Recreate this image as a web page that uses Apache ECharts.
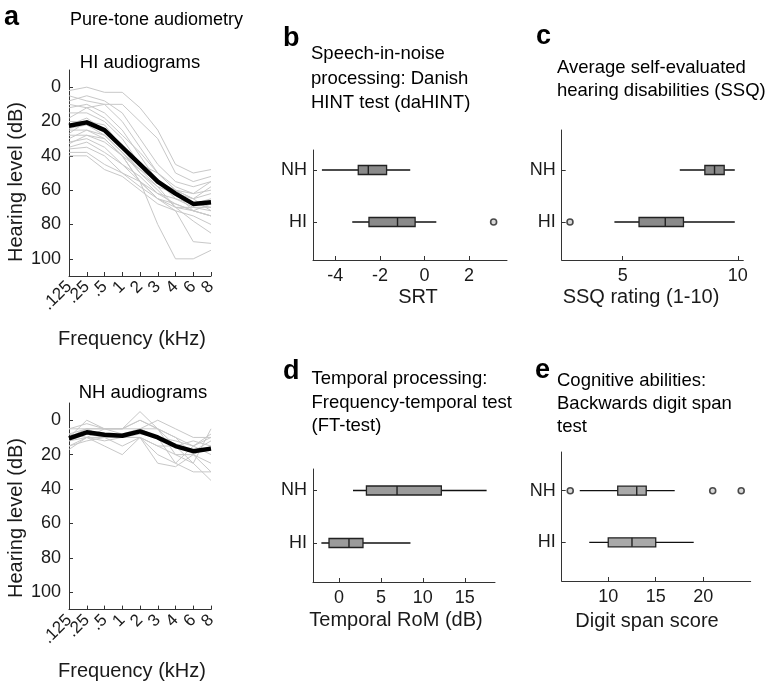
<!DOCTYPE html>
<html><head><meta charset="utf-8">
<script src="https://cdn.jsdelivr.net/npm/echarts@6/dist/echarts.min.js"></script>
<style>html,body{margin:0;padding:0;background:#fff}#c{width:766px;height:685px}</style>
</head><body><div id="c"></div>
<script>
const FONT = '"Liberation Sans", Arial, Helvetica, sans-serif';

// ---- Panel a: audiograms ----
const freqLabels = ['.125', '.25', '.5', '1', '2', '3', '4', '6', '8'];
const hearingTicks = [0, 20, 40, 60, 80, 100];
const hiIndividual = [
  [2, 0, 3, 3, 12, 25, 45, 50, 48],
  [5, 8, 10, 10, 20, 30, 50, 55, 52],
  [8, 5, 8, 15, 30, 45, 55, 58, 55],
  [10, 12, 10, 20, 35, 50, 58, 62, 60],
  [12, 10, 15, 25, 40, 55, 62, 65, 62],
  [15, 15, 20, 30, 45, 50, 60, 68, 70],
  [18, 12, 18, 28, 38, 50, 60, 65, 58],
  [20, 20, 22, 35, 45, 55, 60, 65, 72],
  [22, 18, 25, 35, 50, 60, 70, 70, 70],
  [24, 22, 28, 38, 48, 58, 62, 72, 75],
  [25, 25, 30, 40, 55, 80, 100, 100, 95],
  [27, 20, 25, 35, 45, 55, 65, 68, 65],
  [28, 28, 30, 40, 55, 65, 68, 72, 75],
  [30, 25, 28, 38, 50, 58, 70, 72, 68],
  [32, 30, 35, 45, 52, 62, 65, 70, 72],
  [33, 28, 32, 40, 48, 55, 60, 62, 55],
  [35, 32, 38, 45, 55, 65, 72, 90, 91],
  [36, 35, 40, 50, 55, 62, 68, 72, 75],
  [38, 38, 45, 50, 58, 65, 70, 78, 85],
  [40, 40, 48, 52, 60, 68, 72, 75, 80]
];
const hiMean = [22.5, 20.5, 25, 35, 45, 55, 62, 68, 67];
const nhIndividual = [
  [5, 2, 5, 5, -5, 5, 10, 15, 8],
  [8, 5, 5, 5, 5, 0, 5, 10, 10],
  [10, 5, 10, 10, 5, 10, 15, 12, 15],
  [12, 10, 10, 15, 10, 15, 20, 20, 25],
  [15, 10, 15, 20, 10, 25, 27, 20, 30],
  [10, 0, 5, 5, 0, 5, 20, 25, 35],
  [5, 5, 10, 10, 10, 15, 15, 18, 12],
  [15, 12, 10, 10, 8, 10, 25, 30, 30],
  [12, 8, 10, 10, 5, 10, 12, 15, 20],
  [8, 10, 5, 8, 5, 5, 10, 20, 15],
  [17, 10, 12, 10, 10, 20, 25, 15, 10],
  [10, 5, 5, 5, 0, 5, 15, 25, 5]
];
const nhMean = [10.5, 7, 8.5, 9, 6.5, 10, 15, 18, 16.5];

// ---- Panels b-e: box statistics [min, q1, median, q3, max] ----
const groups = ['NH', 'HI'];
const srtNH = [-4.6, -2.97, -2.52, -1.7, -0.64];
const srtHI = [-3.24, -2.49, -1.21, -0.42, 0.53];
const srtOutNH = [];
const srtOutHI = [3.1];
const srtTicks = [-4, -2, 0, 2];

const ssqNH = [7.48, 8.57, 8.99, 9.41, 9.87];
const ssqHI = [4.64, 5.71, 6.85, 7.64, 9.87];
const ssqOutNH = [];
const ssqOutHI = [2.71];
const ssqTicks = [5, 10];

const romNH = [1.67, 3.27, 6.92, 12.2, 17.6];
const romHI = [-2.1, -1.19, 1.19, 2.86, 8.52];
const romOutNH = [];
const romOutHI = [];
const romTicks = [0, 5, 10, 15];

const digitNH = [7, 11, 13, 14, 17];
const digitHI = [8, 10, 12.5, 15, 19];
const digitOutNH = [6, 21, 24];
const digitOutHI = [];
const digitTicks = [10, 15, 20];

// ---- layout ----
const AX = '#333';
const TXT = '#1a1a1a';
const grids = [
  {left: 69, top: 70, width: 142, height: 206},
  {left: 69, top: 403, width: 142, height: 206.6},
  {left: 313, top: 150, width: 194, height: 110},
  {left: 561.7, top: 130, width: 181.6, height: 130},
  {left: 313, top: 469, width: 182, height: 113},
  {left: 561.7, top: 452, width: 189, height: 129}
];
const boxPanels = [
  {nh: srtNH, hi: srtHI, outNH: srtOutNH, outHI: srtOutHI, ticks: srtTicks, xmin: -5, xmax: 3.7, ymin: 0.615, ymax: 2.731, fill: '#8a8a8a'},
  {nh: ssqNH, hi: ssqHI, outNH: ssqOutNH, outHI: ssqOutHI, ticks: ssqTicks, xmin: 2.35, xmax: 10.24, ymin: 0.231, ymax: 2.731, fill: '#8a8a8a'},
  {nh: romNH, hi: romHI, outNH: romOutNH, outHI: romOutHI, ticks: romTicks, xmin: -3.1, xmax: 18.6, ymin: 0.59, ymax: 2.743, fill: '#9b9b9b'},
  {nh: digitNH, hi: digitHI, outNH: digitOutNH, outHI: digitOutHI, ticks: digitTicks, xmin: 5.1, xmax: 25, ymin: 0.25, ymax: 2.75, fill: '#a9a9a9'}
];

const xAxes = [], yAxes = [], series = [];
[0, 1].forEach(gi => {
  xAxes.push({gridIndex: gi, type: 'category', data: freqLabels, boundaryGap: false,
    axisLine: {onZero: false, lineStyle: {color: AX, width: 1}},
    axisTick: {inside: true, length: 4, lineStyle: {color: AX}},
    axisLabel: {rotate: 45, margin: 8, fontSize: 17, color: TXT, fontFamily: FONT, interval: 0},
    splitLine: {show: false}});
  yAxes.push({gridIndex: gi, type: 'value', inverse: true, min: -10, max: 110,
    axisLine: {show: true, onZero: false, lineStyle: {color: AX, width: 1}},
    axisTick: {show: true, inside: true, length: 4, customValues: hearingTicks, lineStyle: {color: AX}},
    axisLabel: {customValues: hearingTicks, fontSize: 18, margin: 8, color: TXT, fontFamily: FONT},
    splitLine: {show: false}});
});
function addAudio(gi, indiv, mean) {
  indiv.forEach(d => series.push({type: 'line', xAxisIndex: gi, yAxisIndex: gi, data: d, symbol: 'none', silent: true, z: 1,
    lineStyle: {color: '#c8c8c8', width: 1}}));
  series.push({type: 'line', xAxisIndex: gi, yAxisIndex: gi, data: mean, symbol: 'none', silent: true, z: 3,
    lineStyle: {color: '#000', width: 4.5, join: 'round'}});
}
addAudio(0, hiIndividual, hiMean);
addAudio(1, nhIndividual, nhMean);

function boxRender(fill) {
  return function (params, api) {
    const y = api.value(5);
    const a = api.coord([api.value(0), y]);
    const q1 = api.coord([api.value(1), y]);
    const md = api.coord([api.value(2), y]);
    const q3 = api.coord([api.value(3), y]);
    const b = api.coord([api.value(4), y]);
    const h = 4.5;
    return {type: 'group', children: [
      {type: 'line', shape: {x1: a[0], y1: a[1], x2: b[0], y2: b[1]}, style: {stroke: '#111', lineWidth: 1.3}},
      {type: 'rect', shape: {x: q1[0], y: q1[1] - h, width: q3[0] - q1[0], height: 2 * h}, style: {fill: fill, stroke: '#222', lineWidth: 1.3}},
      {type: 'line', shape: {x1: md[0], y1: md[1] - h, x2: md[0], y2: md[1] + h}, style: {stroke: '#222', lineWidth: 1.4}}
    ]};
  };
}
boxPanels.forEach((p, i) => {
  const gi = i + 2;
  xAxes.push({gridIndex: gi, type: 'value', min: p.xmin, max: p.xmax,
    axisLine: {show: true, onZero: false, lineStyle: {color: AX, width: 1}},
    axisTick: {show: true, inside: true, length: 4, customValues: p.ticks, lineStyle: {color: AX}},
    axisLabel: {customValues: p.ticks, fontSize: 18, margin: 7, color: TXT, fontFamily: FONT},
    splitLine: {show: false}});
  yAxes.push({gridIndex: gi, type: 'value', inverse: true, min: p.ymin, max: p.ymax,
    axisLine: {show: true, onZero: false, lineStyle: {color: AX, width: 1}},
    axisTick: {show: true, inside: true, length: 4, customValues: [1, 2], lineStyle: {color: AX}},
    axisLabel: {customValues: [1, 2], formatter: v => groups[Math.round(v) - 1], fontSize: 18, margin: 6, color: TXT, fontFamily: FONT},
    splitLine: {show: false}});
  series.push({type: 'custom', xAxisIndex: gi, yAxisIndex: gi, renderItem: boxRender(p.fill), silent: true, z: 2,
    encode: {x: [0, 1, 2, 3, 4], y: 5},
    data: [p.nh.concat([1]), p.hi.concat([2])]});
  const outs = p.outNH.map(v => [v, 1]).concat(p.outHI.map(v => [v, 2]));
  if (outs.length) series.push({type: 'scatter', xAxisIndex: gi, yAxisIndex: gi, data: outs, symbol: 'circle', symbolSize: 6, silent: true, z: 4,
    itemStyle: {color: '#cfcfcf', borderColor: '#222', borderWidth: 1.6}});
});

function txt(x, y, text, size, opts) {
  opts = opts || {};
  return {type: 'text', x: x, y: y, rotation: opts.rot || 0, silent: true,
    style: {text: text, fill: opts.color || '#000', font: (opts.bold ? 'bold ' : '') + size + 'px ' + FONT,
      align: opts.align || 'left', verticalAlign: 'middle'}};
}
const graphics = [
  txt(4, 18, 'a', 27, {bold: true}),
  txt(70, 20, 'Pure-tone audiometry', 18),
  txt(140, 62.5, 'HI audiograms', 18.5, {align: 'center'}),
  txt(143, 392.5, 'NH audiograms', 18.5, {align: 'center'}),
  txt(132, 339, 'Frequency (kHz)', 20, {align: 'center', color: TXT}),
  txt(132, 671.5, 'Frequency (kHz)', 20, {align: 'center', color: TXT}),
  txt(16, 182, 'Hearing level (dB)', 20, {align: 'center', rot: Math.PI / 2, color: TXT}),
  txt(16, 518, 'Hearing level (dB)', 20, {align: 'center', rot: Math.PI / 2, color: TXT}),

  txt(283, 38.5, 'b', 27, {bold: true}),
  txt(311, 54, 'Speech-in-noise', 18.5),
  txt(311, 78.5, 'processing: Danish', 18.5),
  txt(311, 103, 'HINT test (daHINT)', 18.5),
  txt(418, 297.5, 'SRT', 20, {align: 'center', color: TXT}),

  txt(536, 37, 'c', 27, {bold: true}),
  txt(557, 67.5, 'Average self-evaluated', 18.5),
  txt(557, 90.5, 'hearing disabilities (SSQ)', 18.5),
  txt(641, 297.5, 'SSQ rating (1-10)', 20, {align: 'center', color: TXT}),

  txt(283, 372, 'd', 27, {bold: true}),
  txt(311.5, 379, 'Temporal processing:', 18.5),
  txt(311.5, 402.5, 'Frequency-temporal test', 18.5),
  txt(311.5, 426, '(FT-test)', 18.5),
  txt(396, 620, 'Temporal RoM (dB)', 20, {align: 'center', color: TXT}),

  txt(535, 370.5, 'e', 27, {bold: true}),
  txt(557, 381, 'Cognitive abilities:', 18.5),
  txt(557, 404, 'Backwards digit span', 18.5),
  txt(557, 427, 'test', 18.5),
  txt(647, 621, 'Digit span score', 20, {align: 'center', color: TXT})
];

const chart = echarts.init(document.getElementById('c'), null, {renderer: 'canvas'});
chart.setOption({
  animation: false,
  backgroundColor: '#fff',
  grid: grids,
  xAxis: xAxes,
  yAxis: yAxes,
  series: series,
  graphic: graphics
});
</script></body></html>
